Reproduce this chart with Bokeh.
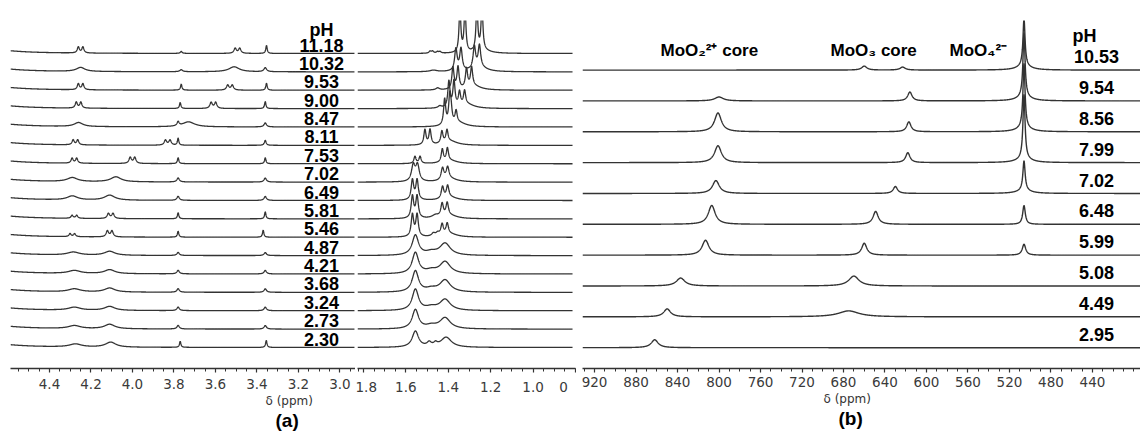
import numpy as np
from bokeh.plotting import figure
from bokeh.layouts import row
from bokeh.models import ColumnDataSource, FixedTicker, Range1d, Title
from bokeh.core.properties import value
from bokeh.embed import file_html
from bokeh.resources import INLINE

# ---------------- data : panel (a) 1H NMR ----------------
ph_a = ["11.18", "10.32", "9.53", "9.00", "8.47", "8.11", "7.53", "7.02", "6.49",
        "5.81", "5.46", "4.87", "4.21", "3.68", "3.24", "2.73", "2.30"]

# peaks (ppm, height a.u., half-width ppm, J ppm; J=0 -> singlet)
hod_peak = (4.75, 6, 0.15, 0)
peaks_a_low = [
    [(4.25, 6, .006, .022), (3.765, 2, .005, 0), (3.494, 5, .007, .022), (3.354, 8, .004, 0)],
    [(4.25, 4, .025, 0), (3.765, 2, .008, 0), (3.51, 5, .03, 0), (3.36, 4, .008, 0)],
    [(4.25, 6, .006, .022), (3.765, 6, .004, 0), (3.53, 5, .007, .022), (3.354, 7, .004, 0)],
    [(4.26, 6, .006, .022), (3.77, 6, .004, 0), (3.61, 6, .007, .022), (3.36, 7, .004, 0)],
    [(4.26, 4, .025, 0), (3.78, 4, .006, 0), (3.73, 5, .035, 0), (3.36, 4, .007, 0)],
    [(4.275, 5, .006, .022), (3.83, 5, .007, .022), (3.78, 7, .004, 0), (3.36, 5, .005, 0)],
    [(4.28, 5, .006, .022), (4.00, 6, .007, .022), (3.78, 6, .004, 0), (3.36, 6, .004, 0)],
    [(4.29, 4, .03, 0), (4.08, 5, .03, 0), (3.78, 4, .007, 0), (3.36, 4, .007, 0)],
    [(4.29, 4, .03, 0), (4.11, 5, .03, 0), (3.78, 4, .007, 0), (3.36, 4, .007, 0)],
    [(4.28, 3, .006, .022), (4.105, 5, .007, .022), (3.78, 6, .004, 0), (3.36, 7, .004, 0)],
    [(4.29, 3, .006, .022), (4.11, 6, .007, .022), (3.78, 6, .004, 0), (3.37, 7, .004, 0)],
    [(4.285, 3, .035, 0), (4.11, 4, .03, 0), (3.78, 3, .007, 0), (3.36, 3, .007, 0)],
    [(4.28, 3, .035, 0), (4.11, 4, .03, 0), (3.78, 3.5, .007, 0), (3.36, 3.5, .007, 0)],
    [(4.28, 3, .035, 0), (4.11, 4, .03, 0), (3.78, 3.5, .007, 0), (3.36, 3.5, .007, 0)],
    [(4.28, 3, .035, 0), (4.11, 4, .03, 0), (3.78, 3.5, .007, 0), (3.36, 3.5, .007, 0)],
    [(4.28, 3, .035, 0), (4.11, 4.5, .03, 0), (3.78, 3.5, .007, 0), (3.36, 3.5, .007, 0)],
    [(4.275, 3, .035, 0), (4.105, 5, .03, 0), (3.77, 6, .004, 0), (3.355, 7, .004, 0)],
]
peaks_a_high = [
    [(1.333, 45, .005, .024), (1.253, 45, .005, .024), (1.24, 3, .04, 0), (1.48, 2, .006, .012), (1.445, 1.5, .006, .012)],
    [(1.352, 22, .007, .024), (1.265, 22, .007, .024), (1.25, 4, .04, 0), (1.47, 1.5, .02, 0)],
    [(1.366, 22, .006, .024), (1.302, 19, .006, .024), (1.28, 4, .04, 0), (1.45, 2, .01, 0)],
    [(1.385, 26, .006, .024), (1.335, 14, .006, .024), (1.31, 4, .04, 0), (1.44, 2, .01, 0)],
    [(1.405, 26, .006, .024), (1.375, 12, .006, .024), (1.35, 4, .04, 0)],
    [(1.498, 15, .006, .024), (1.418, 12, .006, .024), (1.39, 4, .04, 0)],
    [(1.545, 7, .006, .024), (1.416, 13, .006, .024), (1.39, 3, .04, 0)],
    [(1.555, 16, .01, .02), (1.415, 12, .008, .024), (1.39, 3, .04, 0)],
    [(1.558, 20, .007, .022), (1.415, 12, .007, .024), (1.39, 3, .04, 0)],
    [(1.558, 22, .007, .022), (1.417, 13, .007, .024), (1.39, 3, .04, 0), (1.46, 3, .02, 0)],
    [(1.558, 22, .007, .022), (1.417, 11, .007, .024), (1.39, 3, .04, 0), (1.47, 3, .01, 0), (1.45, 3, .01, 0)],
    [(1.555, 20, .018, 0), (1.415, 12, .03, 0), (1.48, 3, .03, 0)],
    [(1.555, 21, .018, 0), (1.415, 12, .03, 0), (1.48, 3, .03, 0)],
    [(1.555, 21, .018, 0), (1.415, 12, .03, 0), (1.48, 3, .03, 0)],
    [(1.555, 21, .018, 0), (1.415, 11, .03, 0), (1.48, 3, .03, 0)],
    [(1.555, 19, .018, 0), (1.415, 11, .03, 0), (1.48, 3, .03, 0)],
    [(1.555, 16, .018, 0), (1.41, 10, .03, 0), (1.49, 4, .012, 0), (1.46, 3, .01, 0)],
]
ticks_a_low = [4.4, 4.2, 4.0, 3.8, 3.6, 3.4, 3.2, 3.0]
ticks_a_high = [1.8, 1.6, 1.4, 1.2, 1.0, 0.8]

# ---------------- data : panel (b) 95Mo NMR ----------------
ph_b = ["10.53", "9.54", "8.56", "7.99", "7.02", "6.48", "5.99", "5.08", "4.49", "2.95"]
peaks_b = [
    [(506, 48, 1.2, 0), (506, 4, 8, 0), (660, 4, 3, 0), (623, 3, 3, 0)],
    [(506, 65, 1.2, 0), (506, 4, 8, 0), (800, 4, 5, 0), (616, 9, 2.5, 0)],
    [(506, 65, 1.2, 0), (506, 4, 8, 0), (801, 19, 4, 0), (617, 10, 2.5, 0)],
    [(506, 65, 1.2, 0), (506, 4, 8, 0), (801, 17, 4, 0), (618, 10, 2.5, 0)],
    [(506, 30, 1.3, 0), (506, 3, 8, 0), (803, 13, 4, 0), (630, 7, 2.5, 0)],
    [(506, 19, 1.5, 0), (807, 19, 4, 0), (649, 13, 3, 0)],
    [(506, 11, 2, 0), (813, 15, 4, 0), (660, 12, 3, 0)],
    [(837, 8, 5, 0), (670, 10, 6, 0)],
    [(850, 8, 4, 0), (675, 6, 12, 0)],
    [(862, 8, 4, 0)],
]
ticks_b = [920, 880, 840, 800, 760, 720, 680, 640, 600, 560, 520, 480, 440]
species_b = ["MoO\u2082\u00b2\u207a core", "MoO\u2083 core", "MoO\u2084\u00b2\u207b"]
species_ppm = [856.4, 692.5, 577.8]

STEP_A = 18.375
STEP_B = 31.11
LINE = "#333333"


def spectrum(x, peaks):
    y = np.zeros_like(x)
    for c, h, w, j in peaks:
        centres = [c] if j == 0 else [c - j / 2, c + j / 2]
        for cc in centres:
            y += h / (1 + ((x - cc) / w) ** 2)
    return y


def style_axis(p, ticks, minor, standoff, labels):
    ax = p.xaxis[0]
    ax.ticker = FixedTicker(ticks=ticks, minor_ticks=minor)
    ax.major_label_overrides = labels
    ax.axis_line_color = LINE
    ax.axis_line_width = 1.5
    ax.major_tick_line_color = LINE
    ax.major_tick_line_width = 1.2
    ax.major_tick_out = 4
    ax.major_tick_in = 0
    ax.minor_tick_line_color = LINE
    ax.minor_tick_line_width = 1.0
    ax.minor_tick_out = 3
    ax.minor_tick_in = 0
    ax.major_label_text_font = "DejaVu Sans"
    ax.major_label_text_font_size = "13.5px"
    ax.major_label_text_color = "#3a3a3a"
    ax.major_label_standoff = standoff


def add_bottom_texts(p, delta_offset, panel_text, panel_offset):
    p.add_layout(Title(text="\u03b4 (ppm)", align="left", offset=delta_offset, standoff=0,
                       text_font="DejaVu Sans", text_font_size="12px",
                       text_font_style="normal", text_color="#333333"), "below")
    p.add_layout(Title(text=panel_text, align="left", offset=panel_offset, standoff=0,
                       text_font="Liberation Sans", text_font_size="19px",
                       text_font_style="bold", text_color="black"), "below")


def make_fig(width, x_range, y_range, mb_left, mb_right, mb_bottom):
    p = figure(width=width, height=437, x_range=x_range, y_range=y_range,
               title=None, output_backend="svg", toolbar_location=None,
               y_axis_location=None, min_border=0,
               min_border_left=mb_left, min_border_right=mb_right,
               min_border_top=20, min_border_bottom=mb_bottom)
    p.outline_line_color = None
    p.xgrid.visible = False
    p.ygrid.visible = False
    p.background_fill_color = "white"
    p.border_fill_color = "white"
    return p


n_a = len(ph_a)
offs_a = [(n_a - 1 - k) * STEP_A for k in range(n_a)]

# ---- panel (a), left segment ----
pa1 = make_fig(355, Range1d(4.588, 2.925), Range1d(-21, 327), 10, 0, 69)
x1 = np.linspace(4.588, 2.93, 1600)
pa1.multi_line(xs=[x1] * n_a,
               ys=[spectrum(x1, pk + [hod_peak]) + o for pk, o in zip(peaks_a_low, offs_a)],
               line_color=LINE, line_width=1.3)
src_pa = ColumnDataSource(dict(x=[3.089] * n_a, y=[o + 8.5 for o in offs_a], t=ph_a))
pa1.text(x="x", y="y", text="t", source=src_pa, text_align="center",
         text_baseline="middle", text_font=value("Liberation Sans"),
         text_font_style="bold", text_font_size="18px", text_color="black")
pa1.text(x=[3.089], y=[318], text=["pH"], text_align="center", text_baseline="middle",
         text_font=value("Liberation Sans"), text_font_style="bold",
         text_font_size="18px", text_color="black")
minor_a1 = [round(4.55 - 0.05 * i, 2) for i in range(33)]
style_axis(pa1, ticks_a_low, minor_a1, 6, {t: f"{t:.1f}" for t in ticks_a_low})
add_bottom_texts(pa1, 255, "(a)", 265)

# ---- panel (a), right segment ----
pa2 = make_fig(221, Range1d(1.828, 0.80), Range1d(-21, 327), 2, 1, 69)
x2 = np.linspace(1.828, 0.814, 1600)
pa2.multi_line(xs=[x2] * n_a,
               ys=[spectrum(x2, pk) + o for pk, o in zip(peaks_a_high, offs_a)],
               line_color=LINE, line_width=1.3)
minor_a2 = [round(1.8 - 0.05 * i, 2) for i in range(21)] + [1.825]
labels_a2 = {t: f"{t:.1f}" for t in ticks_a_high}
labels_a2[0.8] = "0\u2007"
style_axis(pa2, ticks_a_high, minor_a2, 6, labels_a2)

# ---- panel (b) ----
n_b = len(ph_b)
offs_b = [(n_b - 1 - k) * STEP_B for k in range(n_b)]
pb = make_fig(564, Range1d(931.6, 393.7), Range1d(-21, 330), 6, 0, 66)
xb = np.linspace(931.6, 393.7, 2400)
pb.multi_line(xs=[xb] * n_b,
              ys=[spectrum(xb, pk) + o for pk, o in zip(peaks_b, offs_b)],
              line_color=LINE, line_width=1.4)
src_pb = ColumnDataSource(dict(x=[436.1] * n_b, y=[o + 13.5 for o in offs_b], t=ph_b))
pb.text(x="x", y="y", text="t", source=src_pb, text_align="center",
        text_baseline="middle", text_font=value("Liberation Sans"),
        text_font_style="bold", text_font_size="18px", text_color="black")
pb.text(x=[459.3], y=[314], text=["pH"], text_align="left", text_baseline="middle",
        text_font=value("Liberation Sans"), text_font_style="bold",
        text_font_size="18px", text_color="black")
src_sp = ColumnDataSource(dict(x=species_ppm, y=[300] * 3, t=species_b))
pb.text(x="x", y="y", text="t", source=src_sp, text_align="left",
        text_baseline="middle", text_font=value("Liberation Sans"),
        text_font_style="bold", text_font_size="17px", text_color="black")
minor_b = [930 - 10 * i for i in range(54)]
style_axis(pb, ticks_b, minor_b, 4, {t: str(t) for t in ticks_b})
add_bottom_texts(pb, 241, "(b)", 256)

layout = row(pa1, pa2, pb, spacing=0)
open("out.html", "w").write(file_html(layout, INLINE))
